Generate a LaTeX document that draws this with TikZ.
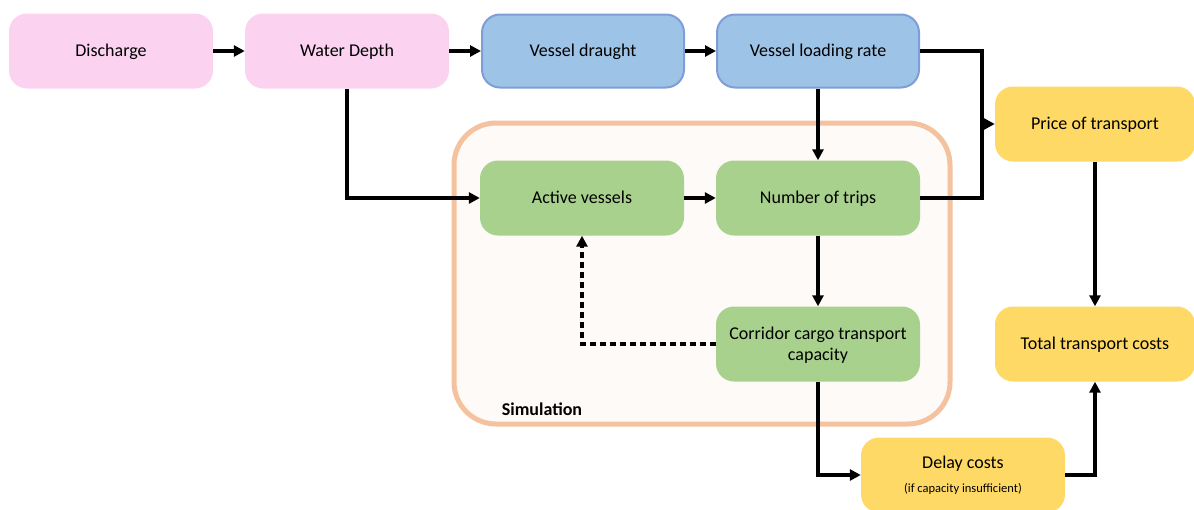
\documentclass[tikz,border=0pt]{standalone}
\usepackage{fontspec}
\setmainfont{Carlito}
\usetikzlibrary{arrows.meta}
\definecolor{pinkc}{HTML}{FBD3F0}
\definecolor{bluec}{HTML}{9DC3E6}
\definecolor{blueb}{HTML}{7F9ED8}
\definecolor{greenc}{HTML}{A9D18E}
\definecolor{yellowc}{HTML}{FFD966}
\definecolor{simb}{HTML}{F5C29F}
\definecolor{simf}{HTML}{FEFAF7}
\tikzset{
  box/.style={rounded corners=18pt, minimum width=204pt, minimum height=75pt, align=center, font=\fontsize{18}{21}\selectfont, inner sep=2pt, text depth=1pt},
  pinkbox/.style={box, fill=pinkc},
  bluebox/.style={box, fill=bluec, draw=blueb, line width=2pt},
  greenbox/.style={box, fill=greenc},
  yellowbox/.style={box, fill=yellowc},
  conn/.style={line width=3.2pt, -{Triangle[length=11pt,width=11pt]}},
  dconn/.style={conn, dash pattern=on 6pt off 4pt},
  plain/.style={line width=3.2pt}
}
\begin{document}
\begin{tikzpicture}[x=1pt,y=-1pt]
\useasboundingbox (0,0) rectangle (1194,509);
% simulation frame
\node[draw=simb, fill=simf, line width=5pt, rounded corners=42pt, minimum width=496pt, minimum height=301pt] (sim) at (702,273.5) {};
\node[font=\bfseries\fontsize{18}{21}\selectfont] (simlab) at (542,409) {Simulation};
% nodes
\node[pinkbox] (dis) at (111,51) {Discharge};
\node[pinkbox] (wd) at (347,51) {Water Depth};
\node[bluebox, minimum width=202pt, minimum height=73pt] (vd) at (583,51) {Vessel draught};
\node[bluebox, minimum width=202pt, minimum height=73pt] (vl) at (818,51) {Vessel loading rate};
\node[yellowbox, minimum width=200pt] (pt) at (1095,124) {Price of transport};
\node[yellowbox, minimum width=200pt] (tc) at (1095,344) {Total transport costs};
\node[greenbox] (av) at (582,198) {Active vessels};
\node[greenbox] (nt) at (818,198) {Number of trips};
\node[greenbox] (cc) at (818,344) {Corridor cargo transport\\capacity};
\node[yellowbox, minimum height=75pt] (dc) at (963,475) {Delay costs\\[3pt]{\fontsize{12.5}{14}\selectfont (if capacity insufficient)}};
\coordinate (j1) at (982,124);
% connectors
\draw[conn] (dis) -- (wd);
\draw[conn] (wd) -- (vd);
\draw[conn] (vd) -- (vl);
\draw[plain] (vl.east) -| (j1);
\draw[plain] (nt.east) -| (j1);
\draw[conn] (j1) -- (pt.west);
\draw[conn] (wd.south) |- (av.west);
\draw[conn] (av) -- (nt);
\draw[conn] (vl) -- (nt);
\draw[conn] (nt) -- (cc);
\draw[dconn] (cc.west) -| (av.south);
\draw[conn] (cc.south) |- (dc.west);
\draw[conn] (pt) -- (tc);
\draw[conn] (dc.east) -| (tc.south);
\end{tikzpicture}
\end{document}
